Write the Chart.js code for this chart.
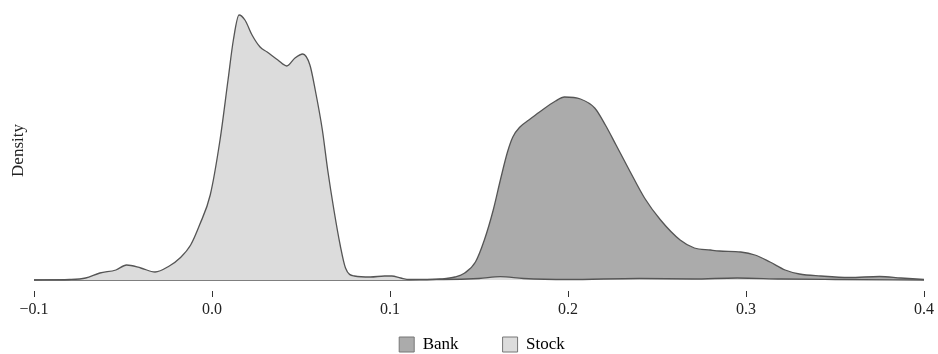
<!DOCTYPE html>
<html>
<head>
<meta charset="utf-8">
<script src="https://cdn.jsdelivr.net/npm/chart.js@4"></script>
<style>
  html, body { margin: 0; padding: 0; background: #fff; }
  #wrap { width: 938px; height: 354px; }
</style>
</head>
<body>
<div id="wrap"><canvas id="density-chart"></canvas></div>
<script>
// Density curves (x = value, y = density)
const stockX = [-0.100, -0.080, -0.071, -0.063, -0.054, -0.048, -0.040, -0.032, -0.024, -0.018,
  -0.012, -0.007, -0.001, 0.0045, 0.009, 0.012, 0.0152, 0.0185, 0.0225, 0.027,
  0.031, 0.037, 0.042, 0.0466, 0.051, 0.055, 0.058, 0.062, 0.065, 0.0685,
  0.072, 0.075, 0.080, 0.089, 0.097, 0.101, 0.106, 0.111, 0.130, 0.150,
  0.162, 0.175, 0.200, 0.240, 0.270, 0.295, 0.320, 0.350, 0.400];
const stockY = [0, 0.05, 0.2, 0.7, 1.0, 1.5, 1.2, 0.8, 1.4, 2.2,
  3.5, 5.5, 8.5, 14.0, 20.0, 24.0, 26.5, 26.0, 24.5, 23.3,
  22.8, 22.0, 21.4, 22.2, 22.6, 21.5, 19.0, 15.0, 11.0, 7.0,
  3.5, 1.2, 0.4, 0.3, 0.4, 0.4, 0.2, 0.05, 0.05, 0.15,
  0.33, 0.15, 0.05, 0.15, 0.1, 0.2, 0.1, 0.05, 0];

const bankX = [-0.100, 0.100, 0.117, 0.128, 0.1365, 0.142, 0.148, 0.153, 0.158, 0.162,
  0.166, 0.169, 0.173, 0.178, 0.184, 0.193, 0.198, 0.207, 0.215, 0.221, 0.227,
  0.235, 0.243, 0.252, 0.263, 0.271, 0.280, 0.285, 0.297, 0.305, 0.3135,
  0.322, 0.330, 0.342, 0.358, 0.375, 0.387, 0.400];
const bankY = [0, 0, 0.02, 0.1, 0.3, 0.7, 1.8, 4.0, 7.0, 10.0,
  12.8, 14.3, 15.3, 16.0, 16.8, 17.9, 18.3, 18.1, 17.2, 15.5, 13.5,
  10.8, 8.2, 6.0, 4.0, 3.2, 3.0, 2.9, 2.8, 2.5, 1.8,
  1.0, 0.6, 0.4, 0.25, 0.35, 0.2, 0.05];

const seriesNames = ['Bank', 'Stock'];
const xTicks = [-0.1, 0.0, 0.1, 0.2, 0.3, 0.4];

const toPoints = (xs, ys) => xs.map((x, i) => ({ x: x, y: ys[i] }));

const serif = "'Liberation Serif', 'Times New Roman', serif";
const canvas = document.querySelector('#density-chart');

// Push the legend row down to the bottom edge (its height is capped below)
// and nudge it right, since the centring counts the trailing gap
const legendShift = {
  id: 'legendShift',
  afterLayout: (chart) => {
    const legend = chart.legend;
    if (!legend) return;
    const pad = legend.options.labels.padding;
    legend.top = 336 - pad;
    legend.bottom = chart.height;
    legend.left += 20;
    legend.right += 20;
  }
};

const densityChart = new Chart(canvas, {
  type: 'line',
  data: {
    datasets: [{
      label: seriesNames[0],
      data: toPoints(bankX, bankY),
      backgroundColor: '#ababab',
      borderColor: '#555555',
      borderWidth: 1.3,
      fill: 'origin',
      pointRadius: 0,
      cubicInterpolationMode: 'monotone',
      order: 2
    }, {
      label: seriesNames[1],
      data: toPoints(stockX, stockY),
      backgroundColor: '#dcdcdc',
      borderColor: '#555555',
      borderWidth: 1.3,
      fill: 'origin',
      pointRadius: 0,
      cubicInterpolationMode: 'monotone',
      order: 1
    }]
  },
  options: {
    responsive: true,
    maintainAspectRatio: false,
    animation: false,
    layout: { padding: { top: 10, right: 14, left: 0, bottom: 0 } },
    scales: {
      x: {
        type: 'linear',
        min: -0.1,
        max: 0.4,
        afterBuildTicks: (scale) => { scale.ticks = xTicks.map((v) => ({ value: v })); },
        afterFit: (scale) => { scale.height = 33; },
        grid: { drawOnChartArea: false, drawTicks: true, tickLength: 6, color: '#333', lineWidth: 1 },
        border: { display: false },
        ticks: {
          padding: 3,
          color: '#222',
          font: { family: serif, size: 16 },
          callback: (v) => (v < 0 ? '\u2212' : '') + Math.abs(v).toFixed(1)
        }
      },
      y: {
        min: -1.1,
        max: 27.0,
        grid: { display: false },
        border: { display: false },
        ticks: { display: false },
        afterFit: (scale) => { scale.width = 34; },
        title: {
          display: true,
          text: 'Density',
          color: '#222',
          font: { family: serif, size: 17 },
          padding: { top: 8, bottom: 0 }
        }
      }
    },
    plugins: {
      tooltip: { enabled: false },
      legend: {
        position: 'bottom',
        maxHeight: 30,
        labels: {
          color: '#222',
          font: { family: serif, size: 17 },
          boxWidth: 15,
          boxHeight: 15,
          padding: 44,
          sort: (a, b) => a.datasetIndex - b.datasetIndex,
          generateLabels: (chart) => chart.data.datasets.map((ds, i) => ({
            text: ds.label,
            fillStyle: ds.backgroundColor,
            strokeStyle: '#777',
            lineWidth: 1,
            datasetIndex: i
          }))
        }
      }
    }
  },
  plugins: [legendShift]
});
</script>
</body>
</html>
